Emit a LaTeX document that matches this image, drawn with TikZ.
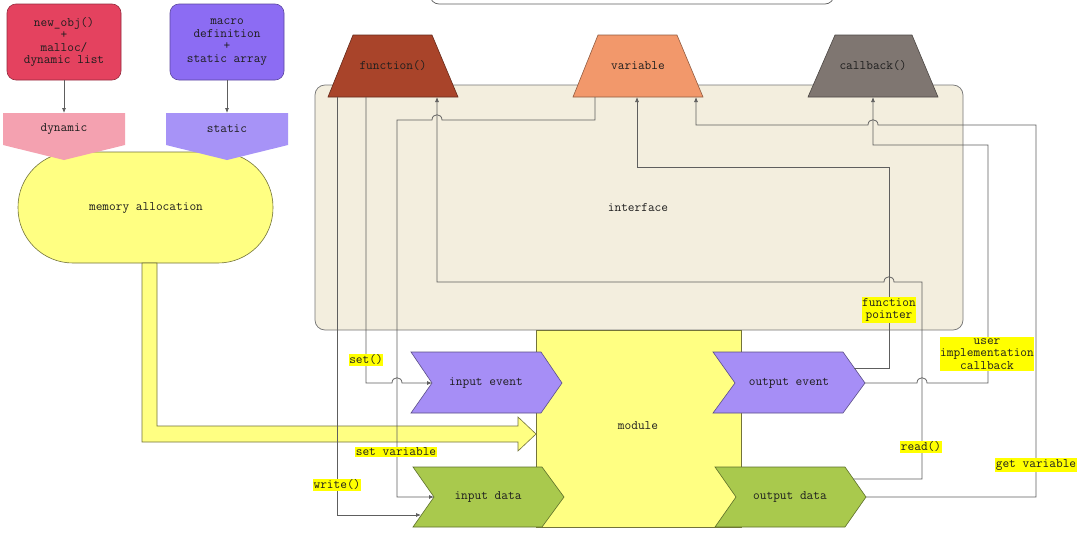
\documentclass[tikz,border=0pt]{standalone}
\usetikzlibrary{arrows.meta,calc}
\definecolor{lineC}{HTML}{5E5E5E}
\definecolor{txtC}{HTML}{1E1E1E}
\definecolor{redC}{HTML}{E4425F}
\definecolor{purC}{HTML}{8C6CF3}
\definecolor{pinkC}{HTML}{F4A1B0}
\definecolor{lavC}{HTML}{A793F7}
\definecolor{yelC}{HTML}{FFFF82}
\definecolor{ifC}{HTML}{F3EEDE}
\definecolor{fnC}{HTML}{A9442A}
\definecolor{varC}{HTML}{F2986B}
\definecolor{cbC}{HTML}{7F7671}
\definecolor{evC}{HTML}{A68EF6}
\definecolor{dataC}{HTML}{A9C94D}
\definecolor{lblC}{HTML}{FFFF00}
\begin{document}
\begin{tikzpicture}[x=1pt,y=-1pt,
  conn/.style={draw=lineC,line width=0.75pt},
  arr/.style={-{Latex[length=5pt,width=4pt]}},
  txt/.style={font=\ttfamily\fontsize{13}{12.5}\selectfont,text=txtC,align=center,inner sep=0pt},
  lbl/.style={txt,fill=lblC,inner xsep=0.6pt,inner ysep=1.2pt},
  shp/.style={line width=0.6pt},
]
\useasboundingbox (0,0) rectangle (1080,533);
\fill[white] (0,0) rectangle (1080,533);

% partial box at top
\begin{scope}
\clip (0,0) rectangle (1080,533);
\draw[lineC,line width=0.7pt,fill=white,rounded corners=9] (430,-30) rectangle (834,4);
\end{scope}

% top-left boxes
\draw[shp,fill=redC,draw=redC!65!black,rounded corners=9] (7,4) rectangle (121,80);
\node[txt] (newobj) at (64,42) {new\_obj()\\+\\malloc/\\dynamic list};
\draw[shp,fill=purC,draw=purC!65!black,rounded corners=9] (170,4) rectangle (284,80);
\node[txt] (macro) at (227,42) {macro\\definition\\+\\static array};

% memory allocation
\draw[shp,fill=yelC,draw=yelC!45!black,rounded corners=55] (18,152) rectangle (273,263);
\node[txt] (mem) at (146,208) {memory allocation};

% pentagons
\fill[pinkC] (3,113) -- (125,113) -- (125,145) -- (64,160) -- (3,145) -- cycle;
\node[txt] (dyn) at (64,129) {dynamic};
\fill[lavC] (166,113) -- (288,113) -- (288,145) -- (227,160) -- (166,145) -- cycle;
\node[txt] (sta) at (227,129) {static};
\coordinate (dynTop) at (64,113);
\coordinate (staTop) at (227,113);
\coordinate (newobjB) at (64,80);
\coordinate (macroB) at (227,80);
\draw[conn,arr] (newobjB) -- (dynTop);
\draw[conn,arr] (macroB) -- (staTop);

% big yellow arrow
\draw[shp,fill=yelC,draw=yelC!45!black] (142,263) -- (157,263) -- (157,426) -- (518,426) -- (518,417) -- (536,434) -- (518,451) -- (518,442) -- (142,442) -- cycle;

% interface
\draw[fill=ifC,draw=lineC!85,line width=0.75pt,rounded corners=10] (315,85) rectangle (963,330);
\node[txt] (iface) at (638,208) {interface};

% trapezia
\draw[shp,fill=fnC,draw=fnC!60!black] (353,35) -- (432,35) -- (458,97) -- (328,97) -- cycle;
\node[txt] (fn) at (393,66) {function()};
\draw[shp,fill=varC,draw=varC!60!black] (598,35) -- (677,35) -- (703,97) -- (573,97) -- cycle;
\node[txt] (var) at (638,66) {variable};
\draw[shp,fill=cbC,draw=cbC!60!black] (835,35) -- (912,35) -- (938,97) -- (808,97) -- cycle;
\node[txt] (cb) at (873,66) {callback()};

% module
\draw[shp,fill=yelC,draw=yelC!45!black] (536,330) rectangle (741,527);
\node[txt] (module) at (638,426) {module};

% chevrons
\draw[shp,fill=evC,draw=evC!55!black] (411,352) -- (541,352) -- (562,383) -- (541,413) -- (411,413) -- (432,383) -- cycle;
\node[txt] (ie) at (486,383) {input event};
\draw[shp,fill=dataC,draw=dataC!55!black] (413,467) -- (542,467) -- (564,497) -- (542,527) -- (413,527) -- (434,497) -- cycle;
\node[txt] (id) at (488,497) {input data};
\draw[shp,fill=evC,draw=evC!55!black] (713,352) -- (843,352) -- (865,383) -- (843,413) -- (713,413) -- (735,383) -- cycle;
\node[txt] (oe) at (789,383) {output event};
\draw[shp,fill=dataC,draw=dataC!55!black] (715,467) -- (845,467) -- (866,497) -- (845,527) -- (715,527) -- (736,497) -- cycle;
\node[txt] (od) at (790,497) {output data};

% ports
\coordinate (fnB1) at (337,97);
\coordinate (fnB2) at (366,97);
\coordinate (fnIn) at (437,97);
\coordinate (varB1) at (595,97);
\coordinate (varIn1) at (637,97);
\coordinate (varIn2) at (696,97);
\coordinate (cbIn) at (873,97);
\coordinate (ieIn) at (432,383);
\coordinate (idIn1) at (434,497);
\coordinate (idIn2) at (421,515);
\coordinate (oeOut1) at (854,368);
\coordinate (oeOut2) at (865,383);
\coordinate (odOut1) at (853,479);
\coordinate (odOut2) at (866,497);

% connectors
\draw[conn,arr] (fnB1) -- (337,515) -- (idIn2);
\draw[conn,arr] (fnB2) -- (366,383) -- (392,383) .. controls (392,376) and (402,376) .. (402,383) -- (ieIn);
\draw[conn,arr] (varB1) -- (595,120) -- (442,120) .. controls (442,113) and (432,113) .. (432,120) -- (397,120) -- (397,497) -- (idIn1);
\draw[conn,arr] (odOut1) -- (922,479) -- (922,282) -- (894,282) .. controls (894,275) and (884,275) .. (884,282) -- (437,282) -- (fnIn);
\draw[conn,arr] (oeOut1) -- (889,368) -- (889,167) -- (637,167) -- (varIn1);
\draw[conn,arr] (oeOut2) -- (917,383) .. controls (917,376) and (927,376) .. (927,383) -- (988,383) -- (988,145) -- (873,145) -- (cbIn);
\draw[conn,arr] (odOut2) -- (1036,497) -- (1036,125) -- (878,125) .. controls (878,118) and (868,118) .. (868,125) -- (696,125) -- (varIn2);

% labels
\node[lbl] (lset) at (366,360) {set()};
\node[lbl] (lsetvar) at (396,452) {set variable};
\node[lbl] (lwrite) at (337,485) {write()};
\node[lbl] (lfp) at (889,310) {function\\pointer};
\node[lbl] (luser) at (987,354) {user\\implementation\\callback};
\node[lbl] (lread) at (921,447) {read()};
\node[lbl] (lget) at (1036,465) {get variable};
\end{tikzpicture}
\end{document}
